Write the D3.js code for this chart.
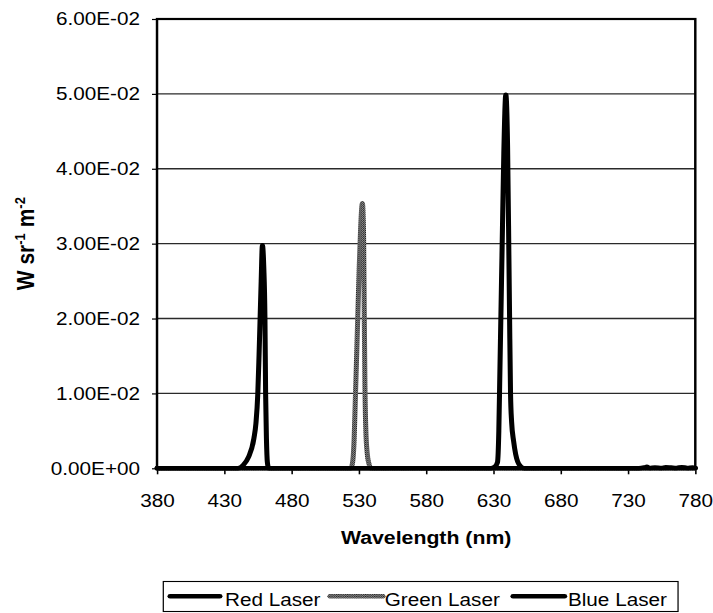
<!DOCTYPE html>
<html>
<head>
<meta charset="utf-8">
<script src="https://cdn.jsdelivr.net/npm/d3@7"></script>
<style>
  html, body { margin: 0; padding: 0; background: #fff; }
  svg { display: block; }
  text { font-family: "Liberation Sans", Arial, Helvetica, sans-serif; fill: #000; }
</style>
</head>
<body>
<svg id="chart"></svg>
<script>
// ---------------- data ----------------
const xTickValues = [380, 430, 480, 530, 580, 630, 680, 730, 780];
const yTickValues = [0, 0.01, 0.02, 0.03, 0.04, 0.05, 0.06];
const seriesNames = ["Red Laser", "Green Laser", "Blue Laser"];

const redWavelength = [380, 500, 600, 628, 631, 633, 634, 634.7, 635.5, 636.5, 637.7, 639.2, 640.5, 641.5, 642, 642.7, 643.5, 645, 646.5, 648, 650, 653, 700, 738, 742, 744, 746, 750, 755, 758, 762, 766, 770, 774, 778, 780];
const redValue      = [0, 0, 0, 0, 0.0002, 0.0008, 0.005, 0.012, 0.02, 0.03, 0.042, 0.0499, 0.043, 0.028, 0.02, 0.01, 0.0062, 0.0036, 0.0019, 0.0009, 0.0003, 0, 0, 0, 0.0001, 0.0002, 0.00005, 0.0001, 0.00005, 0.00015, 0.0001, 0.00005, 0.00015, 0.00005, 0.0001, 0.00005];

const greenWavelength = [380, 520, 524, 525.5, 526.5, 527.5, 528.5, 529.3, 530.3, 531.3, 532.6, 533.5, 534, 534.5, 535.2, 536.2, 537.5, 539, 600, 780];
const greenValue      = [0, 0, 0, 0.001, 0.004, 0.01, 0.016, 0.021, 0.027, 0.032, 0.0354, 0.031, 0.021, 0.011, 0.005, 0.002, 0.0006, 0, 0, 0];

const blueWavelength = [380, 430, 440, 444, 448, 452, 453.5, 454.9, 455.8, 456.6, 457.4, 458.3, 459.3, 460.2, 460.7, 461.3, 462, 463, 500, 780];
const blueValue      = [0, 0, 0, 0.0004, 0.0015, 0.004, 0.006, 0.01, 0.015, 0.02, 0.025, 0.0298, 0.027, 0.02, 0.01, 0.004, 0.0008, 0, 0, 0];

// ---------------- layout ----------------
const W = 713, H = 613;
const SX = 1.12;               // horizontal stretch of the original
const VW = W / SX;
const M = { left: 140.2, right: VW - 620.8, top: 19, bottom: H - 468.3 };

const svg = d3.select("#chart")
  .attr("width", W).attr("height", H)
  .attr("viewBox", `0 0 ${VW} ${H}`)
  .attr("preserveAspectRatio", "none");

const defs = svg.append("defs");
const pat = defs.append("pattern").attr("id", "stipple")
  .attr("patternUnits", "userSpaceOnUse").attr("width", 2).attr("height", 2);
pat.append("rect").attr("width", 2).attr("height", 2).attr("fill", "#8a8a8a");
pat.append("rect").attr("width", 1).attr("height", 1).attr("fill", "#222");
pat.append("rect").attr("x", 1).attr("y", 1).attr("width", 1).attr("height", 1).attr("fill", "#444");

const x = d3.scaleLinear().domain([380, 780]).range([M.left, VW - M.right]);
const y = d3.scaleLinear().domain([0, 0.06]).range([H - M.bottom, M.top]);

function sci(v) {
  if (v === 0) return "0.00E+00";
  const e = Math.floor(Math.log10(Math.abs(v)) + 1e-9);
  const m = v / Math.pow(10, e);
  return m.toFixed(2) + "E" + (e < 0 ? "-" : "+") + String(Math.abs(e)).padStart(2, "0");
}

// gridlines
svg.append("g").selectAll("line")
  .data(yTickValues.filter(v => v > 0 && v < 0.06))
  .join("line")
  .attr("x1", x(380)).attr("x2", x(780))
  .attr("y1", d => y(d)).attr("y2", d => y(d))
  .attr("stroke", "#2a2a2a").attr("stroke-width", 1.4);

// axes
const yAxis = svg.append("g")
  .attr("transform", `translate(${M.left},0)`)
  .call(d3.axisLeft(y).tickValues(yTickValues).tickFormat(sci).tickSize(4.5).tickPadding(10.7));
yAxis.select(".domain").remove();
yAxis.selectAll("line").attr("stroke", "#000").attr("stroke-width", 1.2);
yAxis.selectAll("text").style("font-size", "18.5px").style("font-family", "'Liberation Sans', Arial, sans-serif");

const xAxis = svg.append("g")
  .attr("transform", `translate(0,${H - M.bottom})`)
  .call(d3.axisBottom(x).tickValues(xTickValues).tickFormat(d3.format("d")).tickSize(6).tickPadding(19.6));
xAxis.select(".domain").remove();
xAxis.selectAll("line").attr("stroke", "#000").attr("stroke-width", 1.4);
xAxis.selectAll("text").style("font-size", "18.5px").style("font-family", "'Liberation Sans', Arial, sans-serif");

// plot border
svg.append("rect")
  .attr("x", x(380)).attr("y", y(0.06))
  .attr("width", x(780) - x(380)).attr("height", y(0) - y(0.06))
  .attr("fill", "none").attr("stroke", "#000").attr("stroke-width", 2.2);

// series
const series = [
  { name: seriesNames[1], wl: greenWavelength, v: greenValue, stroke: "url(#stipple)" },
  { name: seriesNames[0], wl: redWavelength, v: redValue, stroke: "#000" },
  { name: seriesNames[2], wl: blueWavelength, v: blueValue, stroke: "#000" }
];
const line = d3.line().x(d => x(d[0])).y(d => y(d[1])).curve(d3.curveMonotoneX);
svg.append("g").selectAll("path")
  .data(series)
  .join("path")
  .attr("d", s => line(s.wl.map((w, i) => [w, s.v[i]])))
  .attr("fill", "none")
  .attr("stroke", s => s.stroke)
  .attr("stroke-width", 4.5)
  .attr("stroke-linejoin", "round")
  .attr("stroke-linecap", "round");

// axis titles
svg.append("text")
  .attr("x", (x(380) + x(780)) / 2).attr("y", 544)
  .attr("text-anchor", "middle")
  .style("font-size", "19px").style("font-weight", "bold")
  .text("Wavelength (nm)");

const yt = svg.append("text")
  .attr("transform", `translate(30,${(y(0) + y(0.06)) / 2}) rotate(-90)`)
  .attr("text-anchor", "middle")
  .style("font-size", "21px").style("font-weight", "bold");
yt.append("tspan").text("W sr");
yt.append("tspan").attr("dy", -8).style("font-size", "13px").text("-1");
yt.append("tspan").attr("dy", 8).text(" m");
yt.append("tspan").attr("dy", -8).style("font-size", "13px").text("-2");

// legend
const legend = svg.append("g");
legend.append("rect")
  .attr("x", 145.8).attr("y", 581.5).attr("width", 605.4 - 145.8).attr("height", 30)
  .attr("fill", "#fff").attr("stroke", "#000").attr("stroke-width", 1.1);
const legendItems = [
  { name: seriesNames[0], x1: 151.8, x2: 196.4, tx: 200.9, stroke: "#000" },
  { name: seriesNames[1], x1: 294.6, x2: 342, tx: 343.5, stroke: "url(#stipple)" },
  { name: seriesNames[2], x1: 458, x2: 504.2, tx: 507.1, stroke: "#000" }
];
legendItems.forEach(it => {
  legend.append("line")
    .attr("x1", it.x1).attr("x2", it.x2).attr("y1", 596.3).attr("y2", 596.3)
    .attr("stroke", it.stroke).attr("stroke-width", 4.5).attr("stroke-linecap", "round");
  legend.append("text")
    .attr("x", it.tx).attr("y", 606)
    .style("font-size", "18.5px")
    .text(it.name);
});
</script>
</body>
</html>
